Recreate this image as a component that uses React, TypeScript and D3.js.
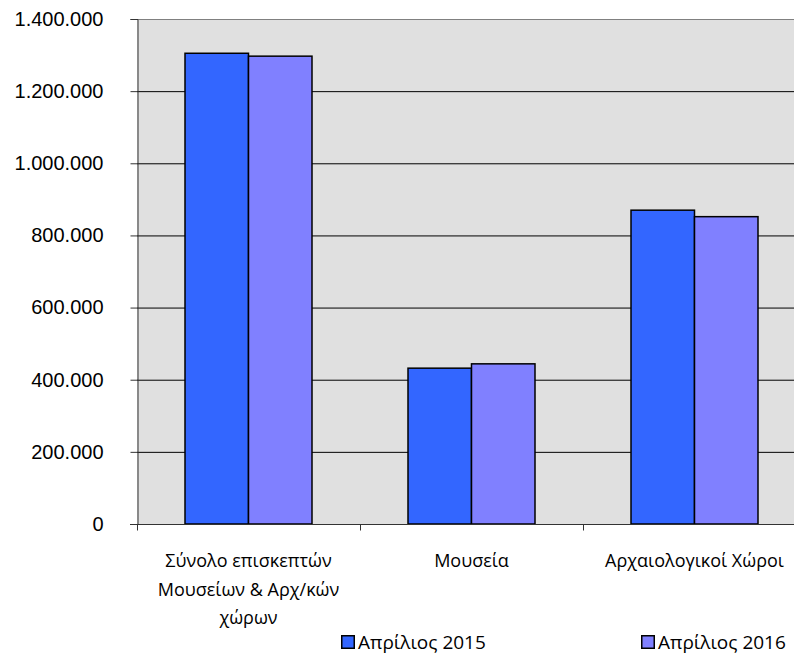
import React, { useRef, useEffect } from 'react';
import * as d3 from 'd3';

const categories = ['total', 'museums', 'sites'];
const categoryLabels = [
  ['Σύνολο επισκεπτών', 'Μουσείων & Αρχ/κών', 'χώρων'],
  ['Μουσεία'],
  ['Αρχαιολογικοί Χώροι'],
];
const seriesNames = ['Απρίλιος 2015', 'Απρίλιος 2016'];
const values2015 = [1305000, 432000, 870000];
const values2016 = [1297000, 444000, 852000];
const yTicks = [0, 200000, 400000, 600000, 800000, 1000000, 1200000, 1400000];
const colors = ['#3366FF', '#8080FF'];

const App: React.FC = () => {
  const svgRef = useRef<SVGSVGElement>(null);

  useEffect(() => {
    const svg = d3.select(svgRef.current);
    svg.selectAll('*').remove();

    const width = 794;
    const height = 654;
    const plot = { left: 137, right: 806, top: 19, bottom: 524 };
    const labelFont = '"Open Sans", sans-serif';

    const x0 = d3.scaleBand()
      .domain(categories)
      .range([plot.left, plot.right])
      .padding(0);

    const x1 = d3.scaleBand()
      .domain(seriesNames)
      .range([0, x0.bandwidth()])
      .paddingInner(0)
      .paddingOuter(0.756);

    const y = d3.scaleLinear()
      .domain([0, 1400000])
      .range([plot.bottom, plot.top]);

    const fmt = (v: number) => d3.format(',')(v).replace(/,/g, '.');

    // background
    svg.append('rect')
      .attr('x', plot.left)
      .attr('y', plot.top)
      .attr('width', plot.right - plot.left)
      .attr('height', plot.bottom - plot.top)
      .attr('fill', '#E0E0E0');

    // gridlines
    svg.append('g')
      .selectAll('line')
      .data(yTicks.slice(1))
      .join('line')
      .attr('x1', plot.left)
      .attr('x2', plot.right)
      .attr('y1', d => y(d) + 0.5)
      .attr('y2', d => y(d) + 0.5)
      .attr('stroke', d => d === 1400000 ? '#808080' : '#000')
      .attr('stroke-width', 1);

    // bars
    const data = categories.map((c, i) => ({ cat: c, vals: [values2015[i], values2016[i]] }));
    const groups = svg.append('g')
      .selectAll('g')
      .data(data)
      .join('g')
      .attr('transform', d => `translate(${x0(d.cat)},0)`);

    groups.selectAll('rect')
      .data(d => d.vals.map((v, j) => ({ v, s: seriesNames[j], j })))
      .join('rect')
      .attr('x', d => x1(d.s)!)
      .attr('y', d => y(d.v))
      .attr('width', x1.bandwidth())
      .attr('height', d => plot.bottom - y(d.v))
      .attr('fill', d => colors[d.j])
      .attr('stroke', '#000')
      .attr('stroke-width', 1.5);

    // y axis
    const yAxis = svg.append('g')
      .attr('transform', `translate(${plot.left + 0.5},0)`)
      .call(d3.axisLeft(y).tickValues(yTicks).tickFormat(d => fmt(+d)).tickSize(7).tickPadding(27));
    yAxis.select('.domain').attr('stroke', '#333');
    yAxis.selectAll('.tick line').attr('stroke', '#333');
    yAxis.selectAll('text')
      .attr('font-family', '"Liberation Sans", Arial, sans-serif')
      .attr('font-size', 20)
      .attr('fill', '#000');

    // x axis
    const xAxis = svg.append('g')
      .attr('transform', `translate(0,${plot.bottom + 0.5})`);
    xAxis.append('line')
      .attr('x1', plot.left - 7)
      .attr('x2', plot.right)
      .attr('stroke', '#333');
    xAxis.selectAll('line.tk')
      .data(categories)
      .join('line')
      .attr('class', 'tk')
      .attr('x1', d => x0(d)! + 0.5)
      .attr('x2', d => x0(d)! + 0.5)
      .attr('y1', 0)
      .attr('y2', 6)
      .attr('stroke', '#333');

    const labels = svg.append('g')
      .selectAll('text')
      .data(categories)
      .join('text')
      .attr('x', d => x0(d)! + x0.bandwidth() / 2)
      .attr('y', 567)
      .attr('text-anchor', 'middle')
      .attr('font-family', labelFont)
      .attr('font-size', 18)
      .attr('fill', '#000');
    labels.each(function (d, i) {
      d3.select(this).selectAll('tspan')
        .data(categoryLabels[i])
        .join('tspan')
        .attr('x', x0(d)! + x0.bandwidth() / 2)
        .attr('dy', (_, k) => (k === 0 ? 0 : 28.5))
        .text(t => t);
    });

    // legend
    const legendX = [341, 641];
    const legend = svg.append('g')
      .selectAll('g')
      .data(seriesNames)
      .join('g')
      .attr('transform', (_, i) => `translate(${legendX[i]},635)`);
    legend.append('rect')
      .attr('x', 0.75)
      .attr('y', 0.75)
      .attr('width', 12.5)
      .attr('height', 12.5)
      .attr('fill', (_, i) => colors[i])
      .attr('stroke', '#000')
      .attr('stroke-width', 1.5);
    legend.append('text')
      .attr('x', 17)
      .attr('y', 14)
      .attr('font-family', labelFont)
      .attr('font-size', 19)
      .attr('fill', '#000')
      .text(d => d);

    svg.attr('width', width).attr('height', height);
  }, []);

  return (
    <svg
      ref={svgRef}
      width={794}
      height={654}
      style={{ position: 'absolute', left: 0, top: 0, background: '#fff' }}
    />
  );
};

export default App;
